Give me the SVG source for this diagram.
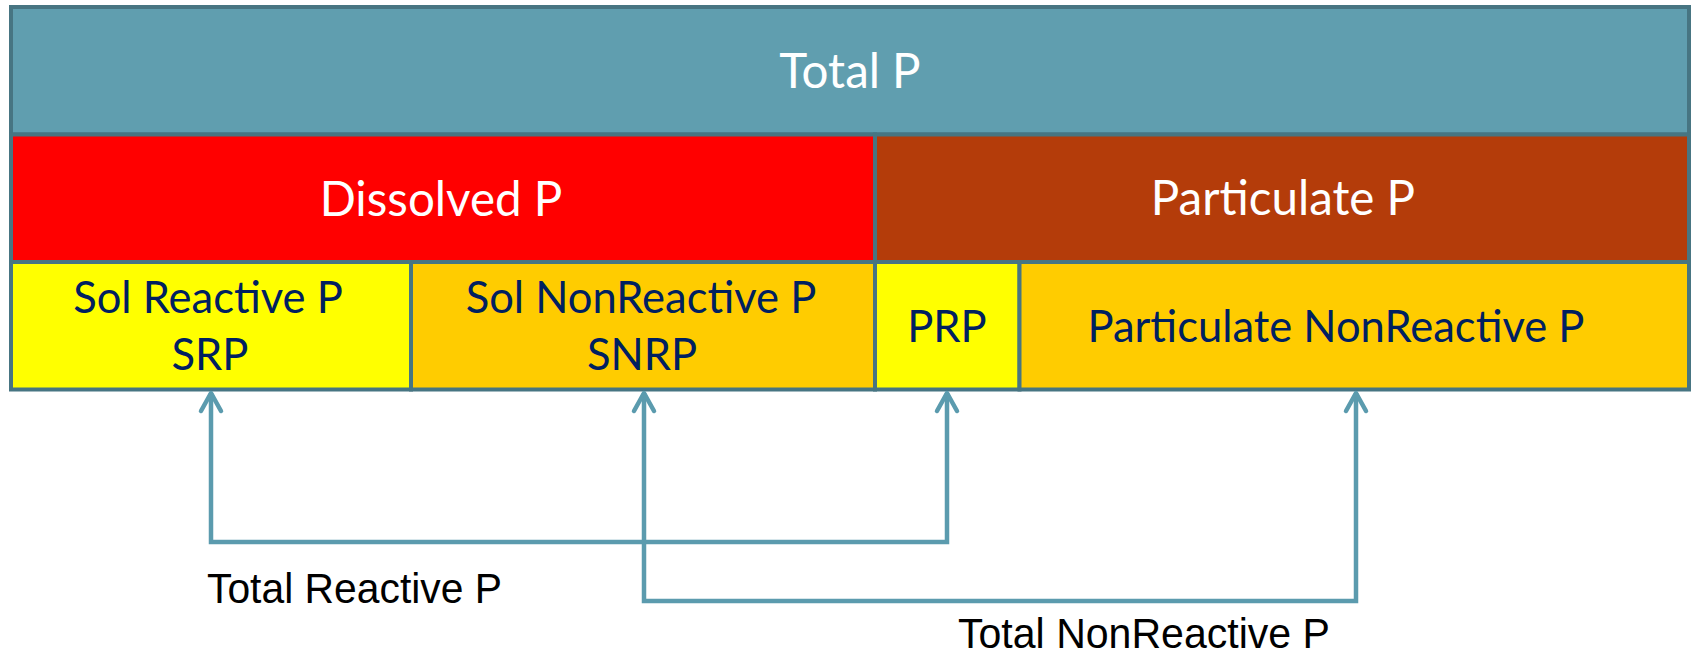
<svg xmlns="http://www.w3.org/2000/svg" width="1691" height="654" viewBox="0 0 1691 654">
  <style>
    .cell { stroke: #477582; stroke-width: 4; }
    .hd { font-family: Lato, "Open Sans", sans-serif; font-size: 47.5px; fill: #ffffff; text-anchor: middle; }
    .sub { font-family: Lato, "Open Sans", sans-serif; font-size: 43.5px; fill: #002060; text-anchor: middle; }
    .lbl { font-family: "Liberation Sans", Arial, sans-serif; font-size: 42px; fill: #000000; }
    .conn { fill: none; stroke: #5B9BAE; stroke-width: 4.5; stroke-linejoin: miter; }
  </style>
  <defs>
    <marker id="chev" viewBox="-24 -14 30 28" refX="0" refY="0" markerWidth="30" markerHeight="28" markerUnits="userSpaceOnUse" orient="auto-start-reverse" overflow="visible">
      <path d="M-18,-10 L0,0 L-18,10" fill="none" stroke="#5B9BAE" stroke-width="4.5" stroke-linecap="round" stroke-linejoin="round"/>
    </marker>
  </defs>
  <rect width="1691" height="654" fill="#ffffff"/>

  <g id="total-p">
    <rect class="cell" x="11" y="7" width="1678" height="127.5" fill="#609EAF"/>
    <text class="hd" x="850" y="88">Total P</text>
  </g>
  <g id="dissolved-p">
    <rect class="cell" x="11" y="134.5" width="864" height="127.5" fill="#FF0000"/>
    <text class="hd" x="441" y="216">Dissolved P</text>
  </g>
  <g id="particulate-p">
    <rect class="cell" x="875" y="134.5" width="814" height="127.5" fill="#B43C0A"/>
    <text class="hd" x="1283" y="215">Particulate P</text>
  </g>
  <g id="srp">
    <rect class="cell" x="11" y="262" width="400" height="127.5" fill="#FFFF00"/>
    <text class="sub" x="208" y="313">Sol Reactive P</text>
    <text class="sub" x="210" y="370">SRP</text>
  </g>
  <g id="snrp">
    <rect class="cell" x="411" y="262" width="464" height="127.5" fill="#FFCC00"/>
    <text class="sub" x="641" y="313">Sol NonReactive P</text>
    <text class="sub" x="642" y="370">SNRP</text>
  </g>
  <g id="prp">
    <rect class="cell" x="875" y="262" width="144.5" height="127.5" fill="#FFFF00"/>
    <text class="sub" x="947" y="342">PRP</text>
  </g>
  <g id="pnrp">
    <rect class="cell" x="1019.5" y="262" width="669.5" height="127.5" fill="#FFCC00"/>
    <text class="sub" x="1336" y="342">Particulate NonReactive P</text>
  </g>

  <g id="connectors">
    <path class="conn" d="M211,393 V542 H947 V393" marker-start="url(#chev)" marker-end="url(#chev)"/>
    <path class="conn" d="M644,393 V601 H1356 V393" marker-start="url(#chev)" marker-end="url(#chev)"/>
  </g>

  <g id="labels">
    <text class="lbl" x="207" y="603" textLength="295" lengthAdjust="spacingAndGlyphs">Total Reactive P</text>
    <text class="lbl" x="958" y="648" textLength="372" lengthAdjust="spacingAndGlyphs">Total NonReactive P</text>
  </g>
</svg>
